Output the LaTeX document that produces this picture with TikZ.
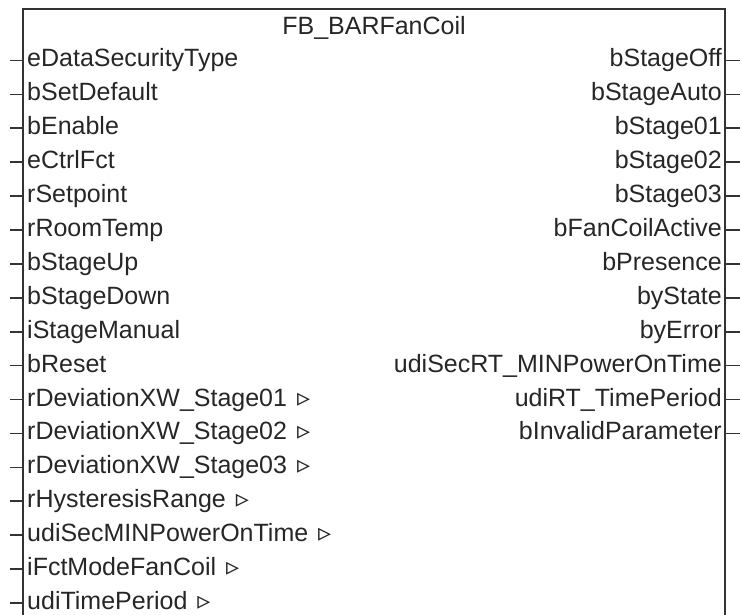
\documentclass[tikz,border=0pt]{standalone}
\usepackage{fontspec}
\setmainfont{Liberation Sans}
\newfontfamily\symfont{DejaVu Sans}
\newcommand\trimark{\hspace{3pt}{\symfont\fontsize{26}{28}\selectfont ▹}}
\begin{document}
\begin{tikzpicture}[x=1pt,y=1pt,
  lbl/.style={inner sep=0pt,font=\fontsize{25}{28}\selectfont,text=black!85},
  inlbl/.style={lbl,anchor=base west},
  outlbl/.style={lbl,anchor=base east},
  boxline/.style={line width=2.4pt,draw=black!80},
  pin/.style={line width=1.6pt,draw=black!80}]
\useasboundingbox (0,0) rectangle (742,-615);
% block frame
\coordinate (tl) at (23,-9);
\coordinate (tr) at (725,-9);
\coordinate (bl) at (23,-620);
\coordinate (br) at (725,-620);
\draw[boxline] (bl) -- (tl) -- (tr) -- (br);
\node[lbl,anchor=base] (title) at (374,-35) {FB\_BARFanCoil};
% inputs
\foreach \n [count=\i from 0] in {eDataSecurityType,bSetDefault,bEnable,eCtrlFct,rSetpoint,rRoomTemp,bStageUp,bStageDown,iStageManual,bReset,rDeviationXW\_Stage01 \trimark,rDeviationXW\_Stage02 \trimark,rDeviationXW\_Stage03 \trimark,rHysteresisRange \trimark,udiSecMINPowerOnTime \trimark,iFctModeFanCoil \trimark,udiTimePeriod \trimark}{
  \pgfmathsetmacro\yy{-(60.5+33.9*\i)}
  \coordinate (inpin\i) at (10,\yy);
  \coordinate (inedge\i) at (23,\yy);
  \draw[pin] (inpin\i) -- (inedge\i);
  \node[inlbl] (in\i) at (27,\yy-6.5) {\n};
}
% outputs
\foreach \n [count=\i from 0] in {bStageOff,bStageAuto,bStage01,bStage02,bStage03,bFanCoilActive,bPresence,byState,byError,udiSecRT\_MINPowerOnTime,udiRT\_TimePeriod,bInvalidParameter}{
  \pgfmathsetmacro\yy{-(60.5+33.9*\i)}
  \coordinate (outedge\i) at (725,\yy);
  \coordinate (outpin\i) at (740,\yy);
  \draw[pin] (outedge\i) -- (outpin\i);
  \node[outlbl] (out\i) at (722,\yy-6.5) {\n};
}
\end{tikzpicture}
\end{document}
